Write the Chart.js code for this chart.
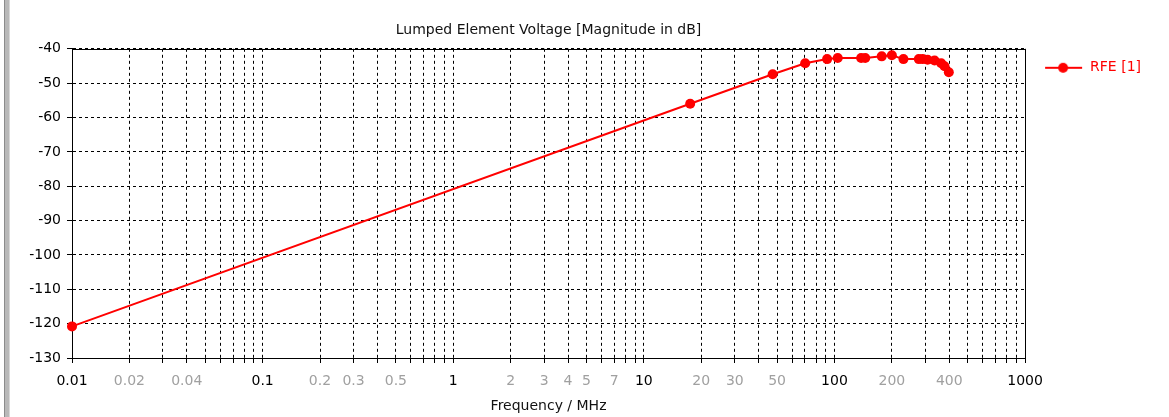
<!DOCTYPE html>
<html>
<head>
<meta charset="utf-8">
<script src="https://cdn.jsdelivr.net/npm/chart.js@4.4.1/dist/chart.umd.min.js"></script>
<style>
  html, body { margin: 0; padding: 0; background: #fff; }
  #wrap { position: relative; width: 1169px; height: 417px; }
  #frame { position: absolute; left: 4px; top: 0; width: 4px; height: 417px; background: #b9b9b9; border-left: 1px solid #8c8c8c; border-right: 1px solid #d8d8d8; }
</style>
</head>
<body>
<div id="wrap">
  <div id="frame"></div>
  <canvas id="linechart" width="1169" height="417"></canvas>
</div>
<script>
// values (frequency in MHz, voltage in dB)
const freqMHz = [0.01, 17.5, 47.4, 70.2, 91.5, 104, 138, 145, 177, 200, 230, 277, 290, 308, 335, 363, 378, 398];
const voltageDb = [-120.8, -56.0, -47.4, -44.2, -43.0, -42.7, -42.7, -42.7, -42.2, -41.9, -43.0, -43.0, -43.0, -43.2, -43.4, -44.2, -45.1, -46.8];

// x axis labels: black ones at each decade, grey ones in between
const decadeLabels = ['0.01', '0.1', '1', '10', '100', '1000'];
const minorLabels = ['0.02', '0.04', '0.2', '0.3', '0.5', '2', '3', '4', '5', '7', '20', '30', '50', '200', '400'];
const decades = [0.01, 0.1, 1, 10, 100];

const yTicks = { min: -130, max: -40, step: 10 };

const fontFamily = 'DejaVu Sans';

function findLabel(list, v) {
  return list.find(s => Math.abs(Number(s) - v) / v < 1e-6);
}

// legend marker: a short red line with a dot on it
const marker = document.createElement('canvas');
marker.width = 46;
marker.height = 12;
(function () {
  const m = marker.getContext('2d');
  m.strokeStyle = '#ff0000';
  m.lineWidth = 2;
  m.beginPath();
  m.moveTo(8, 6);
  m.lineTo(45, 6);
  m.stroke();
  m.fillStyle = '#ff0000';
  m.beginPath();
  m.arc(26, 6, 5, 0, Math.PI * 2);
  m.fill();
})();

const frame = {
  id: 'frame',
  beforeDatasetsDraw(chart) {
    const a = chart.chartArea;
    const c = chart.ctx;
    c.save();
    c.strokeStyle = '#000';
    c.lineWidth = 1;
    c.setLineDash([]);
    c.strokeRect(Math.round(a.left) + 0.5, Math.round(a.top) + 0.5, Math.round(a.right - a.left), Math.round(a.bottom - a.top));
    c.restore();
  }
};

const ctx = document.getElementById('linechart');

new Chart(ctx, {
  type: 'line',
  data: {
    datasets: [{
      label: 'RFE [1]',
      data: freqMHz.map((f, i) => ({ x: f, y: voltageDb[i] })),
      borderColor: '#ff0000',
      backgroundColor: '#ff0000',
      borderWidth: 2,
      pointRadius: 5,
      pointHoverRadius: 5,
      pointBorderWidth: 0,
      tension: 0,
      clip: false
    }]
  },
  plugins: [frame],
  options: {
    responsive: false,
    animation: false,
    devicePixelRatio: 1,
    layout: { padding: { left: 0, right: 18, top: 0, bottom: 0 } },
    plugins: {
      tooltip: { enabled: false },
      title: {
        display: true,
        text: 'Lumped Element Voltage [Magnitude in dB]',
        fullSize: false,
        color: '#111',
        font: { family: fontFamily, size: 14, weight: 'normal' },
        padding: { top: 22, bottom: 10 }
      },
      legend: {
        position: 'right',
        align: 'start',
        fullSize: false,
        labels: {
          color: '#ff0000',
          font: { family: fontFamily, size: 14 },
          usePointStyle: true,
          pointStyleWidth: 46,
          padding: 12,
          generateLabels(chart) {
            return chart.data.datasets.map((ds, i) => ({
              text: ds.label,
              fontColor: '#ff0000',
              pointStyle: marker,
              datasetIndex: i,
              hidden: false,
              lineWidth: 0
            }));
          }
        }
      }
    },
    scales: {
      x: {
        type: 'logarithmic',
        min: 0.01,
        max: 1000,
        afterFit(scale) { scale.height = 59; },
        afterBuildTicks(scale) {
          const ticks = [];
          decades.forEach(d => {
            for (let k = 1; k <= 9; k++) ticks.push({ value: Number((d * k).toPrecision(6)) });
          });
          ticks.push({ value: 1000 });
          scale.ticks = ticks;
        },
        border: { display: true, color: '#000', width: 1, dash: [3, 3] },
        grid: {
          color: '#000',
          lineWidth: 1,
          tickLength: 5,
          tickBorderDash: [],
          tickColor: '#000'
        },
        ticks: {
          autoSkip: false,
          maxRotation: 0,
          padding: 10,
          font: { family: fontFamily, size: 14 },
          color(c) {
            return findLabel(decadeLabels, c.tick.value) ? '#000' : '#a0a0a0';
          },
          callback(value) {
            return findLabel(decadeLabels, value) || findLabel(minorLabels, value) || '';
          }
        },
        title: {
          display: true,
          text: 'Frequency / MHz',
          color: '#111',
          font: { family: fontFamily, size: 14 },
          padding: { top: 0, bottom: 2 }
        }
      },
      y: {
        min: yTicks.min,
        max: yTicks.max,
        afterFit(scale) { scale.width = 72; },
        border: { display: true, color: '#000', width: 1, dash: [3, 3] },
        grid: {
          color: '#000',
          lineWidth: 1,
          tickLength: 5,
          tickBorderDash: [],
          tickColor: '#000'
        },
        ticks: {
          stepSize: yTicks.step,
          padding: 6,
          color: '#000',
          font: { family: fontFamily, size: 14 }
        }
      }
    }
  }
});
</script>
</body>
</html>
